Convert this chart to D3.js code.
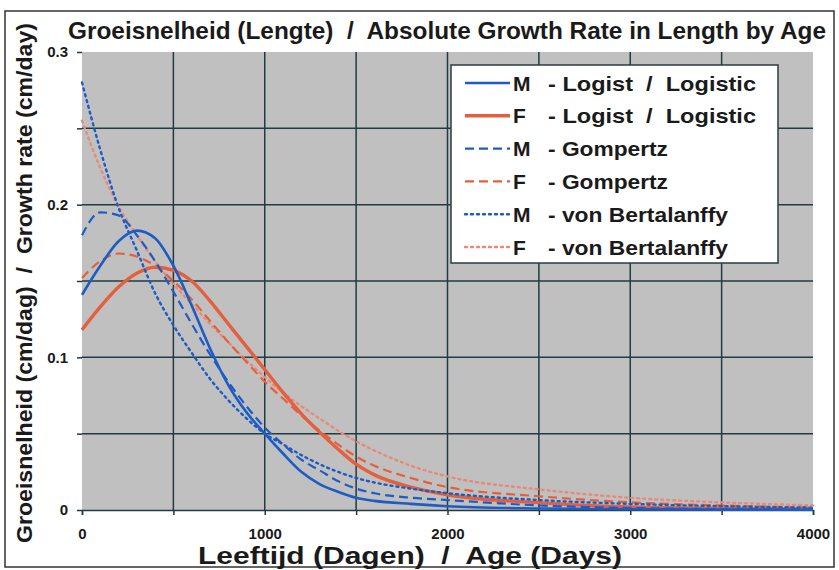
<!DOCTYPE html>
<html>
<head>
<meta charset="utf-8">
<script src="https://cdn.jsdelivr.net/npm/d3@7"></script>
<style>
  body { margin: 0; background: #fff; }
  svg { display: block; font-family: "Liberation Sans", Arial, sans-serif; font-weight: bold; }
</style>
</head>
<body>
<svg></svg>
<script>
const width = 839;
const height = 570;
const margin = { top: 52, right: 26, bottom: 60, left: 82 };

// age in days
const days = [0, 100, 200, 300, 400, 500, 600, 700, 800, 900, 1000, 1100, 1200, 1300, 1400, 1500, 1600, 1800, 2000, 2500, 3000, 3500, 4000];

// growth rate, cm/day
const mLogistic = [0.141, 0.160, 0.176, 0.183, 0.178, 0.160, 0.134, 0.106, 0.082, 0.064, 0.050, 0.037, 0.025, 0.017, 0.012, 0.008, 0.006, 0.004, 0.0025, 0.001, 0.0005, 0.0003, 0.0002];
const fLogistic = [0.118, 0.133, 0.146, 0.155, 0.159, 0.157, 0.150, 0.137, 0.122, 0.107, 0.092, 0.077, 0.063, 0.051, 0.040, 0.030, 0.023, 0.015, 0.010, 0.0048, 0.002, 0.001, 0.0005];
const mGompertz = [0.180, 0.195, 0.193, 0.180, 0.163, 0.143, 0.122, 0.102, 0.084, 0.068, 0.054, 0.043, 0.033, 0.026, 0.019, 0.014, 0.011, 0.008, 0.0065, 0.003, 0.0013, 0.0006, 0.0003];
const fGompertz = [0.152, 0.163, 0.168, 0.166, 0.160, 0.150, 0.138, 0.124, 0.110, 0.097, 0.084, 0.073, 0.062, 0.052, 0.043, 0.035, 0.029, 0.021, 0.015, 0.009, 0.005, 0.003, 0.0015];
const mBertalanffy = [0.280, 0.236, 0.198, 0.170, 0.142, 0.121, 0.103, 0.086, 0.072, 0.060, 0.050, 0.043, 0.036, 0.030, 0.025, 0.021, 0.018, 0.014, 0.011, 0.0065, 0.004, 0.0025, 0.0015];
const fBertalanffy = [0.255, 0.224, 0.199, 0.180, 0.163, 0.148, 0.135, 0.122, 0.110, 0.098, 0.087, 0.077, 0.068, 0.060, 0.052, 0.045, 0.039, 0.029, 0.022, 0.0135, 0.008, 0.005, 0.003];

const xTicks = [0, 1000, 2000, 3000, 4000];
const yTicks = [0, 0.1, 0.2, 0.3];

const blue = '#1d5cc4';
const red = '#e4603c';

const series = [
  { sex: 'M', name: '- Logist  /  Logistic', len: 208, values: mLogistic, color: blue, w: 2.6, dash: null },
  { sex: 'F', name: '- Logist  /  Logistic', len: 208, values: fLogistic, color: red, w: 3.4, dash: null },
  { sex: 'M', name: '- Gompertz', len: 120, values: mGompertz, color: blue, w: 2.2, dash: '9,5' },
  { sex: 'F', name: '- Gompertz', len: 120, values: fGompertz, color: red, w: 2.2, dash: '9,5' },
  { sex: 'M', name: '- von Bertalanffy', len: 180, values: mBertalanffy, color: blue, w: 2.4, dash: '2,4' },
  { sex: 'F', name: '- von Bertalanffy', len: 180, values: fBertalanffy, color: '#e88a78', w: 2.4, dash: '2,4' }
];

const svg = d3.select('svg')
  .attr('width', width)
  .attr('height', height);

// outer frame
svg.append('rect')
  .attr('x', 5).attr('y', 11)
  .attr('width', 829).attr('height', 556)
  .attr('fill', 'none')
  .attr('stroke', '#333')
  .attr('stroke-width', 1.5);

const xScale = d3.scaleLinear()
  .domain([0, 4000])
  .range([margin.left, width - margin.right]);

const yScale = d3.scaleLinear()
  .domain([0, 0.3])
  .range([height - margin.bottom, margin.top]);

// plot area
svg.append('rect')
  .attr('x', xScale(0)).attr('y', yScale(0.3))
  .attr('width', xScale(4000) - xScale(0))
  .attr('height', yScale(0) - yScale(0.3))
  .attr('fill', '#c0c0c0');

// grid
const grid = svg.append('g').attr('stroke', '#1f3c42').attr('stroke-width', 1.5);
grid.selectAll('.vg')
  .data(d3.range(500, 4000, 500))
  .enter().append('line')
  .attr('x1', d => xScale(d)).attr('x2', d => xScale(d))
  .attr('y1', yScale(0.3)).attr('y2', yScale(0));
grid.selectAll('.hg')
  .data([0.05, 0.1, 0.15, 0.2, 0.25])
  .enter().append('line')
  .attr('x1', xScale(0)).attr('x2', xScale(4000))
  .attr('y1', d => yScale(d)).attr('y2', d => yScale(d));

const xAxis = d3.axisBottom(xScale)
  .tickValues(d3.range(0, 4001, 500))
  .tickSize(5)
  .tickFormat(d => xTicks.includes(d) ? d : '');
const yAxis = d3.axisLeft(yScale)
  .tickValues(d3.range(0, 0.301, 0.05))
  .tickSize(5)
  .tickFormat(d => yTicks.some(t => Math.abs(t - d) < 1e-9) ? d3.format('~g')(d) : '');

const gx = svg.append('g')
  .attr('id', 'x-axis')
  .attr('transform', `translate(0,${yScale(0)})`)
  .call(xAxis);
const gy = svg.append('g')
  .attr('id', 'y-axis')
  .attr('transform', `translate(${xScale(0)},0)`)
  .call(yAxis);

[gx, gy].forEach(g => {
  g.select('.domain').attr('stroke', '#1f3c42').attr('stroke-width', 1.5);
  g.selectAll('.tick line').attr('stroke', '#1f3c42').attr('stroke-width', 1.5);
  g.selectAll('.tick text')
    .attr('fill', '#1a1a1a')
    .style('font-size', '15px')
    .style('font-weight', 'bold')
    .style('font-family', '"Liberation Sans", Arial, sans-serif');
});
gy.select('.domain').remove();
gx.selectAll('.tick text').attr('y', 18).attr('dy', '0.71em');
gy.selectAll('.tick text').attr('x', -14);

// curves
const line = d3.line()
  .x((d, i) => xScale(days[i]))
  .y(d => yScale(d))
  .curve(d3.curveMonotoneX);

// draw red first so blue sits on top like the reference
const drawOrder = [5, 3, 1, 4, 2, 0];
svg.append('g')
  .selectAll('path')
  .data(drawOrder.map(i => series[i]))
  .enter().append('path')
  .attr('d', d => line(d.values))
  .attr('fill', 'none')
  .attr('stroke', d => d.color)
  .attr('stroke-width', d => d.w)
  .attr('stroke-dasharray', d => d.dash)
  .attr('stroke-linecap', d => d.dash === '2,4' ? 'round' : 'butt');

// legend
const legend = svg.append('g').attr('transform', 'translate(451,65)');
legend.append('rect')
  .attr('width', 327).attr('height', 198)
  .attr('fill', '#fff')
  .attr('stroke', '#2a3c42')
  .attr('stroke-width', 1.5);

const rows = legend.selectAll('.row')
  .data(series)
  .enter().append('g')
  .attr('transform', (d, i) => `translate(0,${18 + i * 32.8})`);

rows.append('line')
  .attr('x1', 14).attr('x2', 59)
  .attr('stroke', d => d.color)
  .attr('stroke-width', d => d.w)
  .attr('stroke-dasharray', d => d.dash)
  .attr('stroke-linecap', d => d.dash === '2,4' ? 'round' : 'butt');

rows.append('text')
  .attr('x', 62).attr('y', 7.5)
  .attr('fill', '#1a1a1a')
  .style('font-size', '21px')
  .text(d => d.sex);

rows.append('text')
  .attr('x', 97).attr('y', 7.5)
  .attr('fill', '#1a1a1a')
  .style('font-size', '21px')
  .style('white-space', 'pre')
  .attr('textLength', d => d.len)
  .attr('lengthAdjust', 'spacingAndGlyphs')
  .text(d => d.name);

// titles
svg.append('text')
  .attr('x', 447).attr('y', 39)
  .attr('text-anchor', 'middle')
  .attr('fill', '#1a1a1a')
  .style('font-size', '24px')
  .style('white-space', 'pre')
  .attr('textLength', 758)
  .attr('lengthAdjust', 'spacingAndGlyphs')
  .text('Groeisnelheid (Lengte)  /  Absolute Growth Rate in Length by Age');

svg.append('text')
  .attr('x', 410).attr('y', 564)
  .attr('text-anchor', 'middle')
  .attr('fill', '#1a1a1a')
  .style('font-size', '24px')
  .style('white-space', 'pre')
  .attr('textLength', 424)
  .attr('lengthAdjust', 'spacingAndGlyphs')
  .text('Leeftijd (Dagen)  /  Age (Days)');

svg.append('text')
  .attr('transform', 'translate(32,283) rotate(-90)')
  .attr('text-anchor', 'middle')
  .attr('fill', '#1a1a1a')
  .style('font-size', '22px')
  .style('white-space', 'pre')
  .attr('textLength', 520)
  .attr('lengthAdjust', 'spacingAndGlyphs')
  .text('Groeisnelheid (cm/dag)  /  Growth rate (cm/day)');
</script>
</body>
</html>
